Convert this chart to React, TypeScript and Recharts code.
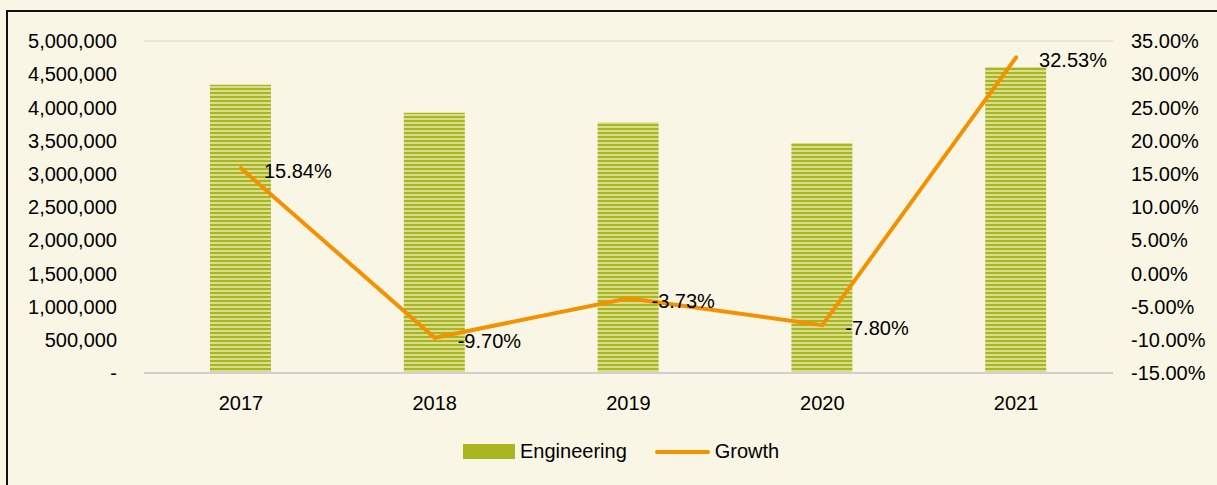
import React from "react";
import {
  ComposedChart,
  Bar,
  Line,
  XAxis,
  YAxis,
  CartesianGrid,
  Legend,
  LabelList,
} from "recharts";

const years = ["2017", "2018", "2019", "2020", "2021"];
const engineering = [4340000, 3920000, 3775000, 3465000, 4610000];
const growth = [15.84, -9.7, -3.73, -7.8, 32.53];
const leftTicks = [0, 500000, 1000000, 1500000, 2000000, 2500000, 3000000, 3500000, 4000000, 4500000, 5000000];
const rightTicks = [-15, -10, -5, 0, 5, 10, 15, 20, 25, 30, 35];

const data = years.map((year, i) => ({
  year,
  engineering: engineering[i],
  growth: growth[i],
}));

const FONT = "'Liberation Sans', Arial, sans-serif";
const BG = "#faf6e5";
const OLIVE = "#a9b61e";
const ORANGE = "#f39200";
const FS = 20;

const renderGrowthLabel = (props: any) => {
  const { x, y, value } = props;
  return (
    <text
      x={x + 23}
      y={y + 3}
      textAnchor="start"
      dominantBaseline="central"
      fontSize={FS}
      fill="#000"
      fontFamily={FONT}
    >
      {Number(value).toFixed(2)}%
    </text>
  );
};

const renderLegend = () => (
  <div
    style={{
      display: "flex",
      alignItems: "center",
      fontFamily: FONT,
      fontSize: FS,
      color: "#000",
      paddingLeft: 463,
    }}
  >
    <span style={{ width: 52, height: 15, background: OLIVE, display: "inline-block" }} />
    <span style={{ marginLeft: 5 }}>Engineering</span>
    <span
      style={{
        width: 55,
        height: 4,
        borderRadius: 2,
        background: ORANGE,
        display: "inline-block",
        marginLeft: 28,
      }}
    />
    <span style={{ marginLeft: 5 }}>Growth</span>
  </div>
);

export default function App() {
  return (
    <div
      style={{
        position: "absolute",
        left: 0,
        top: 0,
        width: 1217,
        height: 485,
        background: BG,
        overflow: "hidden",
      }}
    >
      <div
        style={{
          position: "absolute",
          left: 6,
          top: 10,
          width: 1240,
          height: 520,
          border: "2px solid #111",
          boxSizing: "border-box",
        }}
      />
      <div style={{ position: "absolute", left: 0, top: 0 }}>
        <ComposedChart
          width={1217}
          height={485}
          data={data}
          margin={{ top: 41, right: 0, bottom: 82, left: 0 }}
        >
          <defs>
            <pattern id="stripes" width="8" height="4" patternUnits="userSpaceOnUse">
              <rect x="0" y="0" width="8" height="4" fill="#d9dd92" />
              <rect x="0" y="0" width="8" height="2" fill={OLIVE} />
            </pattern>
          </defs>
          <CartesianGrid vertical={false} stroke="#e5e2d5" strokeWidth={1.5} />
          <XAxis
            dataKey="year"
            height={30}
            tickSize={0}
            tickMargin={23}
            axisLine={{ stroke: "#cfcfcf", strokeWidth: 2 }}
            tick={{ fontSize: FS, fill: "#000", fontFamily: FONT }}
          />
          <YAxis
            yAxisId="left"
            orientation="left"
            width={144}
            domain={[0, 5000000]}
            ticks={leftTicks}
            interval={0}
            tickSize={0}
            tickMargin={27}
            axisLine={false}
            tickLine={false}
            tick={{ fontSize: FS, fill: "#000", fontFamily: FONT }}
            tickFormatter={(v: number) => (v === 0 ? "-" : v.toLocaleString("en-US"))}
          />
          <YAxis
            yAxisId="right"
            orientation="right"
            width={104}
            domain={[-15, 35]}
            ticks={rightTicks}
            interval={0}
            tickSize={0}
            tickMargin={18}
            axisLine={false}
            tickLine={false}
            tick={{ fontSize: FS, fill: "#000", fontFamily: FONT }}
            tickFormatter={(v: number) => `${v.toFixed(2)}%`}
          />
          <Legend
            verticalAlign="middle"
            align="center"
            content={renderLegend}
            wrapperStyle={{ top: 440, left: 0, width: 1217 }}
          />
          <Bar
            yAxisId="left"
            dataKey="engineering"
            name="Engineering"
            fill="url(#stripes)"
            barSize={61}
            isAnimationActive={false}
          />
          <Line
            yAxisId="right"
            type="linear"
            dataKey="growth"
            name="Growth"
            stroke={ORANGE}
            strokeWidth={4}
            strokeLinecap="round"
            dot={false}
            activeDot={false}
            isAnimationActive={false}
          >
            <LabelList dataKey="growth" content={renderGrowthLabel} />
          </Line>
        </ComposedChart>
      </div>
    </div>
  );
}
